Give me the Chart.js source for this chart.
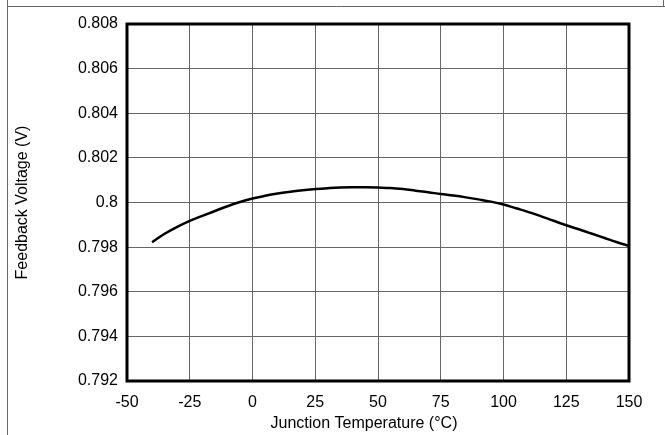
<!DOCTYPE html>
<html>
<head>
<meta charset="utf-8">
<script src="https://cdn.jsdelivr.net/npm/chart.js@4"></script>
<style>
  html, body { margin: 0; padding: 0; background: #fff; }
  #wrap { width: 665px; height: 435px; }
</style>
</head>
<body>
<div id="wrap"><canvas id="chart" width="665" height="435"></canvas></div>
<script>
// Junction temperature (°C)
const temperatures = [-40, -35, -30, -25, -20, -15, -10, -5, 0, 5, 10, 15, 20, 25, 30, 35, 40, 45, 50,
    55, 60, 65, 70, 75, 80, 85, 90, 95, 100, 105, 110, 115, 120, 125, 130, 135, 140, 145, 150];
// Feedback voltage (V)
const feedbackVoltage = [0.79822, 0.7986, 0.79891, 0.79918, 0.7994, 0.79962, 0.79983, 0.80002, 0.80018, 0.8003,
    0.8004, 0.80048, 0.80055, 0.8006, 0.80064, 0.80067, 0.80068, 0.80068, 0.80067,
    0.80065, 0.8006, 0.80053, 0.80046, 0.80038, 0.80031, 0.80023, 0.80014, 0.80004, 0.79991,
    0.79974, 0.79957, 0.79938, 0.79918, 0.79898, 0.7988, 0.79861, 0.79842, 0.79823, 0.79805];

const xTicks = [-50, -25, 0, 25, 50, 75, 100, 125, 150];
const yTicks = [0.792, 0.794, 0.796, 0.798, 0.8, 0.802, 0.804, 0.806, 0.808];

const xTitle = 'Junction Temperature (°C)';
const yTitle = 'Feedback Voltage (V)';

const fontFamily = '"Liberation Sans", Arial, Helvetica, sans-serif';

// cadre extérieur + bordure épaisse de la zone de tracé + titre de l'axe x
const framePlugin = {
    id: 'frame',
    beforeDraw(chart) {
        const c = chart.ctx;
        c.save();
        c.fillStyle = '#fff';
        c.fillRect(0, 0, chart.width, chart.height);
        c.strokeStyle = '#666';
        c.lineWidth = 1;
        c.beginPath();
        c.moveTo(7.5, 0);
        c.lineTo(7.5, chart.height);
        c.moveTo(7.5, 6.5);
        c.lineTo(chart.width, 6.5);
        c.moveTo(663.5, 0);
        c.lineTo(663.5, 6.5);
        c.stroke();
        c.restore();
    },
    afterDatasetsDraw(chart) {
        const a = chart.chartArea;
        const c = chart.ctx;
        c.save();
        c.strokeStyle = '#000';
        c.lineWidth = 3;
        c.strokeRect(a.left, a.top, a.right - a.left, a.bottom - a.top);
        // le titre x est un peu décalé à gauche dans l'original
        c.fillStyle = '#000';
        c.font = '16px ' + fontFamily;
        c.textAlign = 'center';
        c.textBaseline = 'middle';
        c.fillText(xTitle, (a.left + a.right) / 2 - 14, chart.height - 11);
        c.restore();
    }
};

const ctx = document.getElementById('chart').getContext('2d');
const chart = new Chart(ctx, {
    type: 'line',
    data: {
        datasets: [{
            data: temperatures.map((t, i) => ({ x: t, y: feedbackVoltage[i] })),
            borderColor: '#000',
            borderWidth: 2.5,
            pointRadius: 0,
            fill: false,
            tension: 0.4
        }]
    },
    options: {
        responsive: false,
        animation: false,
        layout: { padding: { top: 24, right: 36, left: 0, bottom: 0 } },
        plugins: { legend: { display: false }, tooltip: { enabled: false } },
        scales: {
            x: {
                type: 'linear',
                min: -50,
                max: 150,
                afterBuildTicks: scale => { scale.ticks = xTicks.map(v => ({ value: v })); },
                afterFit: scale => { scale.height = 54; },
                grid: { color: '#666', lineWidth: 1, drawTicks: false },
                border: { display: false },
                ticks: { color: '#000', font: { family: fontFamily, size: 16 }, padding: 12, maxRotation: 0 },
                title: { display: false }
            },
            y: {
                type: 'linear',
                min: 0.792,
                max: 0.808,
                afterBuildTicks: scale => { scale.ticks = yTicks.map(v => ({ value: v })); },
                afterFit: scale => { scale.width = 127; },
                grid: { color: '#666', lineWidth: 1, drawTicks: false },
                border: { display: false },
                ticks: { color: '#000', font: { family: fontFamily, size: 16 }, padding: 9,
                    callback: v => String(+v.toFixed(3)) },
                title: { display: true, text: yTitle, color: '#000',
                    font: { family: fontFamily, size: 16 }, padding: { top: 13, bottom: 0 } }
            }
        }
    },
    plugins: [framePlugin]
});
</script>
</body>
</html>
